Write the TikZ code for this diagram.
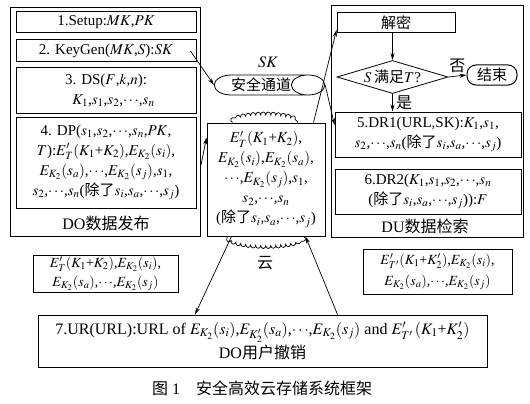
\documentclass[tikz,border=0pt]{standalone}
\usepackage{mathptmx}
\usepackage{fontspec}
\setmainfont{Liberation Serif}
\newfontfamily\cjk{Noto Sans CJK SC}
\newcommand{\hz}[1]{{\cjk #1}}
\usetikzlibrary{positioning,shapes.geometric,arrows.meta,decorations.pathmorphing}

\begin{document}
\begin{tikzpicture}[x=1pt,y=-1pt,
        box/.style={draw, line width=1pt, inner sep=0pt, align=center, font=\fontsize{15}{20}\selectfont},
        frame/.style={draw, line width=1pt, inner sep=0pt, anchor=north west},
        link/.style={-{Stealth[length=7pt,width=4pt]}, line width=.7pt},
        lbl/.style={font=\fontsize{16}{18}\selectfont}]
            \useasboundingbox (0,0) rectangle (530,404);

            \node[frame, minimum width=190pt, minimum height=229pt] (do) at (10,7) {};
            \node[frame, minimum width=192pt, minimum height=232pt] (du) at (331,5) {};

            \node[box, minimum width=180pt, minimum height=21pt] (1) at (106,22.5) {1.Setup:$MK$,$PK$};
            \node[box, minimum width=180pt, minimum height=22pt] (2) at (106,51) {2. KeyGen($MK$,$S$):$SK$};
            \node[box, minimum width=180pt, minimum height=45pt] (3) at (106,90.5) {3. DS($F$,$k$,$n$):\\ \quad$K_1$,$s_1$,$s_2$,$\cdots$,$s_n$};
            \node[box, minimum width=180pt, minimum height=91pt] (4) at (106,162.5) {4. DP($s_1$,$s_2$,$\cdots$,$s_n$,$PK$,\\
                $T$):$E'_T(K_1$+$K_2)$,$E_{K_2}(s_i)$,\\
                $E_{K_2}(s_a)$,$\cdots$,$E_{K_2}(s_j)$,$s_1$,\\
                $s_2$,$\cdots$,$s_n$(\hz{除了}$s_i$,$s_a$,$\cdots$,$s_j$)};
            \node[lbl] (dol) at (106,223) {DO\hz{数据发布}};

            \node[lbl] (sk) at (268,62) {$SK$};
            \node[draw, cylinder, aspect=2.4, line width=.8pt, minimum width=20pt, minimum height=110pt, inner sep=0pt, font=\fontsize{15}{15}\selectfont] (ch) at (261,85) {\hz{安全通道}};

            \node[box, minimum width=118pt, minimum height=113pt] (cl) at (266,179.5) {$E'_T(K_1$+$K_2)$,\\
                $E_{K_2}(s_i)$,$E_{K_2}(s_a)$,\\
                $\cdots$,$E_{K_2}(s_j)$,$s_1$,\\
                $s_2$,$\cdots$,$s_n$\\
                (\hz{除了}$s_i$,$s_a$,$\cdots$,$s_j$)};
            \node[lbl] (yun) at (265,263) {\hz{云}};

            \node[box, minimum width=118pt, minimum height=20pt] (jm) at (396,23) {\hz{解密}};
            \node[draw, diamond, aspect=3.4, line width=.8pt, minimum width=111pt, minimum height=33pt, inner sep=0pt, font=\fontsize{15}{15}\selectfont] (dm) at (392.5,77) {$S$\,\hz{满足}$T$?};
            \node[box, rounded corners=9pt, minimum width=50pt, minimum height=20pt] (jz) at (492,75) {\hz{结束}};
            \node[box, minimum width=186pt, minimum height=45pt] (5) at (428,134.5) {5.DR1(URL,SK):$K_1$,$s_1$,\\
                $s_2$,$\cdots$,$s_n$(\hz{除了}$s_i$,$s_a$,$\cdots$,$s_j$)};
            \node[box, minimum width=186pt, minimum height=45pt] (6) at (428,191.5) {6.DR2($K_1$,$s_1$,$s_2$,$\cdots$,$s_n$\\
                (\hz{除了}$s_i$,$s_a$,$\cdots$,$s_j$)):$F$};
            \node[lbl] (dul) at (425,226) {DU\hz{数据检索}};

            \node[box, minimum width=145pt, minimum height=37pt, font=\fontsize{14}{19}\selectfont] (lb) at (105.5,273.5) {$E'_T(K_1$+$K_2)$,$E_{K_2}(s_i)$,\\
                $E_{K_2}(s_a)$,$\cdots$,$E_{K_2}(s_j)$};
            \node[box, minimum width=149pt, minimum height=45pt, font=\fontsize{14}{21}\selectfont] (rb) at (437.5,271.5) {$E'_{T'}(K_1$+$K'_2)$,$E_{K_2}(s_i)$,\\
                $E_{K_2}(s_a)$,$\cdots$,$E_{K_2}(s_j)$};

            \node[box, minimum width=449pt, minimum height=52pt, font=\fontsize{16}{24}\selectfont] (7) at (262.5,341) {7.UR(URL):URL of $E_{K_2}(s_i)$,$E_{K'_2}(s_a)$,$\cdots$,$E_{K_2}(s_j)$ and $E'_{T'}\,(K_1$+$K'_2)$\\
                DO\hz{用户撤销}};
            \node[lbl] (cap) at (262,388) {\hz{图} 1\quad\hz{安全高效云存储系统框架}};

            \draw[line width=.7pt, decorate, decoration={bumps, segment length=10pt, amplitude=3pt}]
                ([xshift=26pt]cl.north west) .. controls +(5,-10) and +(-5,-10) .. ([xshift=-28pt]cl.north east);
            \draw[line width=.7pt, decorate, decoration={bumps, segment length=10pt, amplitude=3pt}]
                ([xshift=-22pt]cl.south east) .. controls +(-5,12) and +(5,12) .. ([xshift=21pt]cl.south west);

            \path[link]
                ([xshift=-6pt]2.east) edge (ch.west)
                ([yshift=-43pt]do.east) edge ([yshift=-15pt]cl.north west)
                (ch.east) edge ([yshift=9.5pt]5.west)
                ([xshift=-12pt]cl.north east) edge ([yshift=-7pt]jm.west)

                (jm.south -| dm.north) edge (dm.north)
                (dm.south) edge node[right, lbl] {\hz{是}} (5.north -| dm.south)
                (dm.east) edge node[above, lbl] {\hz{否}} (jz.west)

                ([xshift=25pt]cl.south west) edge ([xshift=-67.5pt]7.north)
                ([xshift=75pt]7.north) edge ([xshift=-20pt]cl.south east)
            ;
        \end{tikzpicture}
\end{document}
